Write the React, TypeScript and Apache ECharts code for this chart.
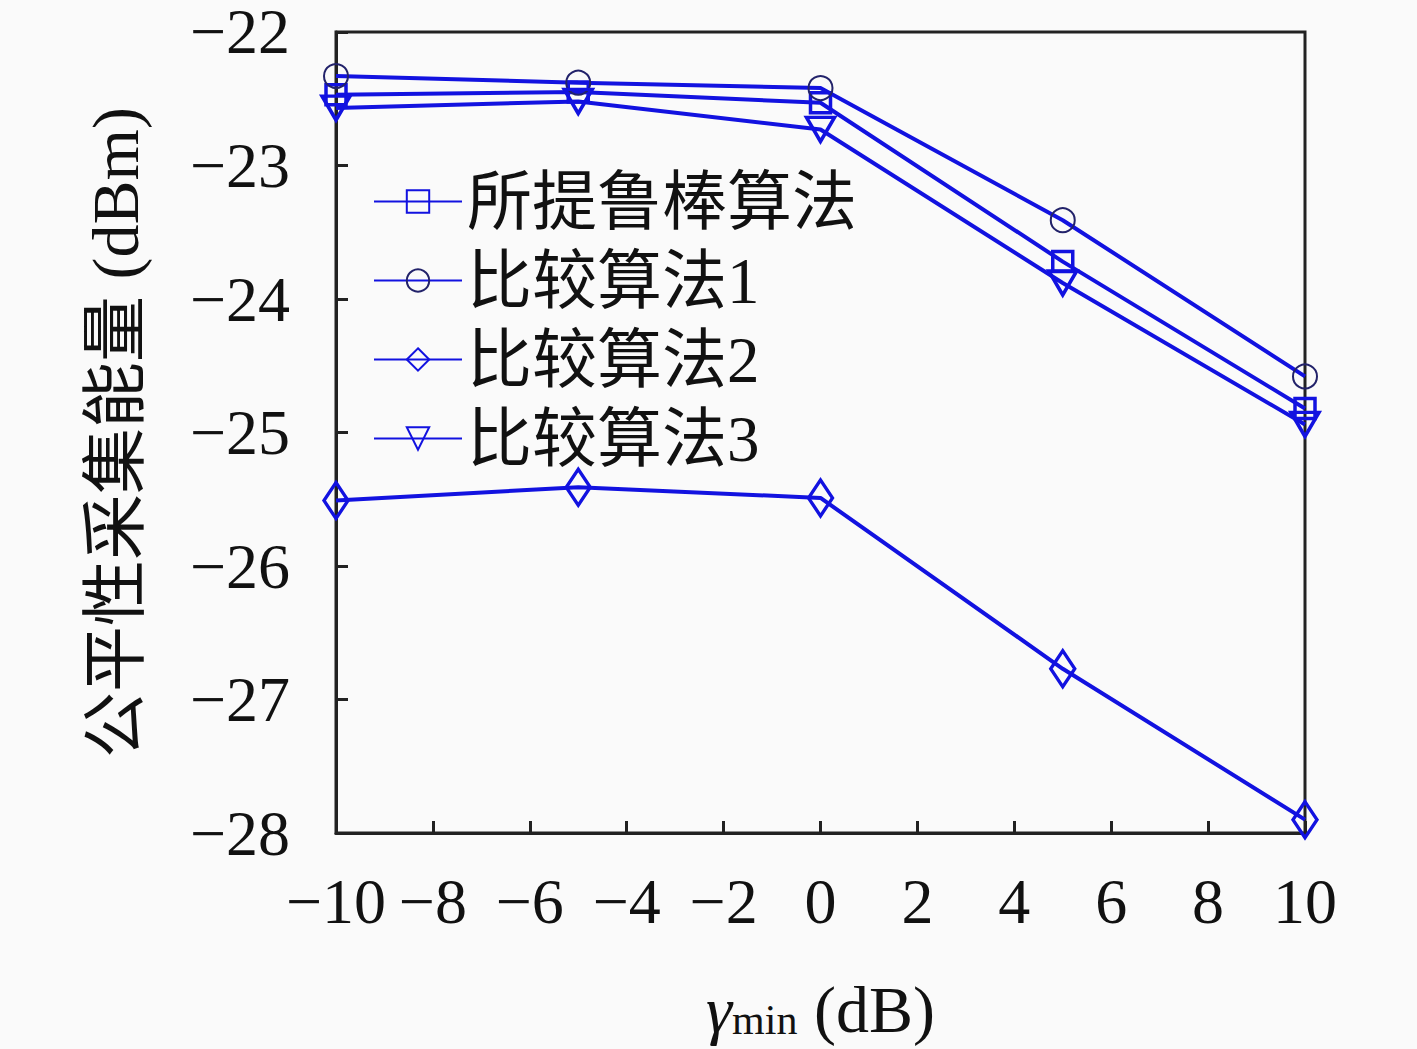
import React, { useEffect, useRef } from "react";
import * as echarts from "echarts";

const xValues = [-10, -5, 0, 5, 10];
const seriesNames = ["所提鲁棒算法", "比较算法1", "比较算法2", "比较算法3"];
const proposed = [-22.47, -22.45, -22.53, -23.72, -24.82];
const compare1 = [-22.33, -22.38, -22.42, -23.41, -24.58];
const compare2 = [-25.51, -25.41, -25.49, -26.77, -27.9];
const compare3 = [-22.57, -22.52, -22.73, -23.88, -24.94];

const BLUE = "#1212e0";
const SERIF = "'Liberation Serif', 'Noto Sans CJK SC', serif";

const fmt = (v: number) => (v < 0 ? "\u2212" + Math.abs(v) : String(v));

export default function App() {
  const ref = useRef<HTMLDivElement>(null);
  useEffect(() => {
    if (!ref.current) return;
    const chart = echarts.init(ref.current, null, { renderer: "svg" });
    const mk = (name: string, vals: number[], symbol: string, size: any, rotate: number, border: string, bw: number) => ({
      name,
      type: "line",
      data: xValues.map((x, i) => [x, vals[i]]),
      symbol,
      symbolSize: size,
      symbolRotate: rotate,
      showAllSymbol: true,
      lineStyle: { color: BLUE, width: 4 },
      itemStyle: { color: "rgba(0,0,0,0)", borderColor: border, borderWidth: bw },
      emphasis: { disabled: true },
      z: 3,
    });
    chart.setOption({
      animation: false,
      backgroundColor: "#fafafa",
      grid: {
        left: 336,
        right: 112,
        top: 26,
        bottom: 216,
        show: true,
        borderColor: "#222",
        borderWidth: 3,
        backgroundColor: "transparent",
      },
      legend: {
        orient: "vertical",
        left: 368,
        top: 164,
        itemWidth: 88,
        itemHeight: 28,
        itemGap: 14,
        data: seriesNames,
        textStyle: { fontFamily: SERIF, fontSize: 65, color: "#111", lineHeight: 64, padding: [0, 0, 0, 0] },
        selectedMode: false,
      },
      xAxis: {
        type: "value",
        min: -10,
        max: 10,
        interval: 2,
        name: "{g|γ}{s|min}{a| (dB)}",
        nameLocation: "middle",
        nameGap: 144,
        nameTextStyle: {
          fontFamily: SERIF,
          color: "#111",
          rich: {
            g: { fontFamily: SERIF, fontSize: 66, fontStyle: "italic", lineHeight: 64, color: "#111" },
            s: { fontFamily: SERIF, fontSize: 42, lineHeight: 40, verticalAlign: "bottom", color: "#111" },
            a: { fontFamily: SERIF, fontSize: 66, lineHeight: 64, color: "#111" },
          },
        },
        axisLine: { show: true, onZero: false, lineStyle: { color: "#222", width: 3 } },
        axisTick: { show: true, inside: true, length: 12, lineStyle: { color: "#222", width: 3 } },
        axisLabel: { formatter: fmt, fontFamily: SERIF, fontSize: 64, color: "#111", margin: 36 },
        splitLine: { show: false },
      },
      yAxis: {
        type: "value",
        min: -28,
        max: -22,
        interval: 1,
        name: "公平性采集能量 (dBm)",
        nameLocation: "middle",
        nameGap: 189,
        nameTextStyle: { fontFamily: SERIF, fontSize: 66, color: "#111", lineHeight: 64 },
        axisLine: { show: true, onZero: false, lineStyle: { color: "#222", width: 3 } },
        axisTick: { show: true, inside: true, length: 12, lineStyle: { color: "#222", width: 3 } },
        axisLabel: { formatter: fmt, fontFamily: SERIF, fontSize: 64, lineHeight: 48, color: "#111", margin: 46 },
        splitLine: { show: false },
      },
      series: [
        mk(seriesNames[0], proposed, "rect", 20, 0, BLUE, 3.5),
        mk(seriesNames[1], compare1, "circle", 24, 0, "#22226a", 2),
        mk(seriesNames[2], compare2, "diamond", [24, 36], 0, BLUE, 3.5),
        mk(seriesNames[3], compare3, "triangle", [28, 24], 180, BLUE, 3.5),
      ],
    });
    return () => chart.dispose();
  }, []);
  return (
    <div
      ref={ref}
      style={{ position: "absolute", left: 0, top: 0, width: 1417, height: 1049 }}
    />
  );
}
